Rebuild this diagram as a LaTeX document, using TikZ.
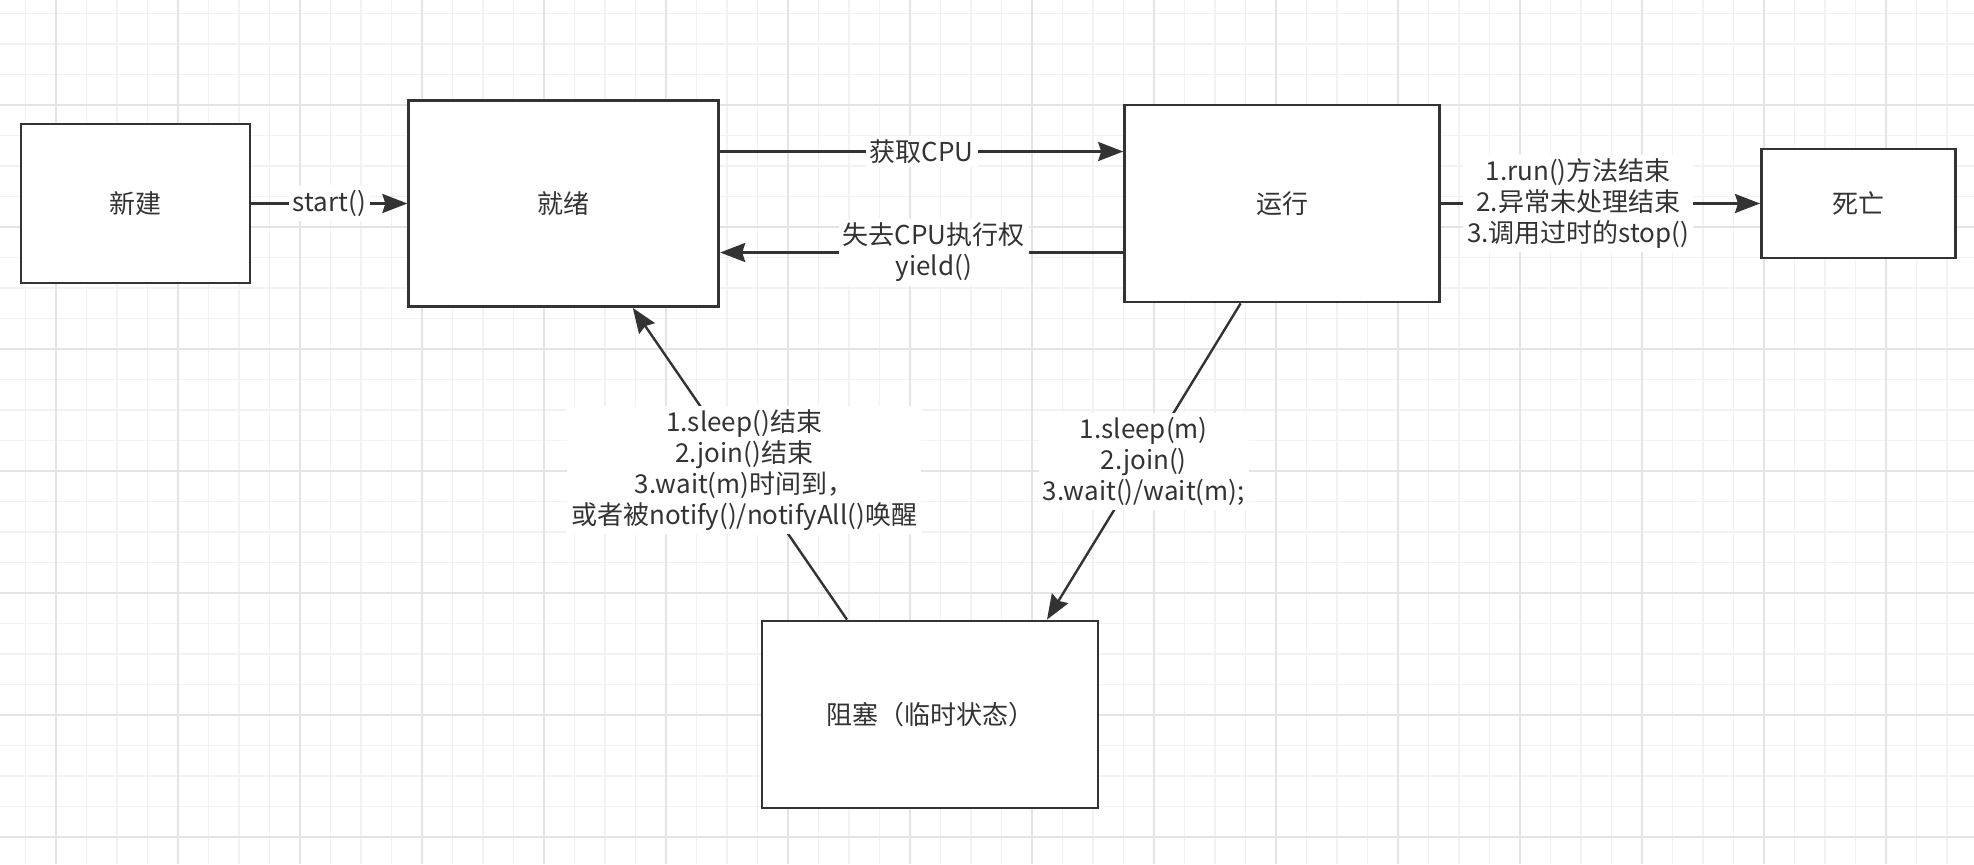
\documentclass[tikz,border=0pt]{standalone}
\usepackage{fontspec}
\setmainfont{Noto Sans CJK SC}
\usetikzlibrary{positioning,arrows.meta}
\definecolor{edgegray}{HTML}{333333}
\definecolor{gridminor}{HTML}{F2F2F2}
\definecolor{gridmajor}{HTML}{E4E4E4}

\begin{document}
\begin{tikzpicture}[
    x=0.5pt, y=-0.5pt,
    >={Stealth[length=12.5pt, width=9.5pt, inset=1.5pt]},
    every node/.style={font=\fontsize{13pt}{15.5pt}\selectfont, text=edgegray},
    state/.style={draw=edgegray, line width=1.4pt, fill=white, rectangle, align=center},
    trans/.style={->, draw=edgegray, line width=1.2pt},
    cond/.style={fill=white, align=center, inner sep=2pt}
]
    % background grid
    \useasboundingbox (0,0) rectangle (1974,864);
    \fill[white] (0,0) rectangle (1974,864);
    \foreach \k in {0,...,63}
        \draw[gridminor, line width=0.7pt] (25.5+30.5*\k,0) -- (25.5+30.5*\k,864);
    \foreach \k in {0,...,27}
        \draw[gridminor, line width=0.7pt] (0,13.5+30.5*\k) -- (1974,13.5+30.5*\k);
    \foreach \k in {0,...,15}
        \draw[gridmajor, line width=0.8pt] (56+122*\k,0) -- (56+122*\k,864);
    \foreach \k in {0,...,6}
        \draw[gridmajor, line width=0.8pt] (0,105+122*\k) -- (1974,105+122*\k);

    % states
    \node[state, minimum width=114.5pt, minimum height=79.5pt] (new) at (135.5,203.5) {新建};
    \node[state, minimum width=155pt, minimum height=103pt, right=78pt of new] (ready) {就绪};
    \node[state, minimum width=157.5pt, minimum height=98.5pt, right=201.5pt of ready] (run) {运行};
    \node[state, minimum width=97pt, minimum height=54.5pt, right=159.5pt of run] (dead) {死亡};
    \node[state, minimum width=168pt, minimum height=93.5pt] (block) at (930,714.5) {阻塞（临时状态）};

    % transitions
    \draw[trans] (new) -- node[cond] {start()} (ready);
    \draw[trans] ([yshift=26pt]ready.east) -- node[cond] {获取CPU} ([yshift=26pt]run.west);
    \draw[trans] ([yshift=-24.5pt]run.west) -- node[cond, pos=0.47] {失去CPU执行权\\yield()} ([yshift=-24.5pt]ready.east);
    \draw[trans] (run) -- node[cond, pos=0.43] {1.run()方法结束\\2.异常未处理结束\\3.调用过时的stop()} (dead);
    \draw[trans] ([xshift=-20.75pt]run.south) -- node[cond, pos=0.5] {1.sleep(m)\\2.join()\\3.wait()/wait(m);} ([xshift=58.5pt]block.north);
    \draw[trans] ([xshift=-41.5pt]block.north) -- node[cond, pos=0.48] {1.sleep()结束\\2.join()结束\\3.wait(m)时间到，\\或者被notify()/notifyAll()唤醒} ([xshift=34.5pt]ready.south);
\end{tikzpicture}
\end{document}
